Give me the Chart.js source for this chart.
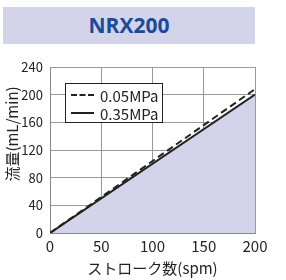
<!DOCTYPE html>
<html>
<head>
<meta charset="utf-8">
<script src="https://cdn.jsdelivr.net/npm/chart.js@4/dist/chart.umd.min.js"></script>
<style>
  html, body { margin: 0; padding: 0; background: #fff; }
  #wrap { position: relative; width: 286px; height: 280px; }
  #title {
    position: absolute; left: 3px; top: 7px; width: 252px; height: 37px;
    background: #d3d3ea; color: #1a4b9b; font: bold 21px "Open Sans", "Noto Sans", sans-serif;
    text-align: center; line-height: 37px;
  }
  #legend {
    position: absolute; left: 65px; top: 83px; width: 98px; height: 40px;
    border: 1px solid #222; background: #fff; box-sizing: border-box;
    font: 15px "Noto Sans CJK JP", "Noto Sans", sans-serif; color: #222;
  }
  .item { position: absolute; left: 5px; height: 18px; display: flex; align-items: center; }
  .swatch { width: 23px; height: 0; border-top: 2px solid #222; margin-right: 6px; }
  .swatch.dash { border-top-style: dashed; }
  #ytitle {
    position: absolute; left: 11px; top: 134px; transform: translate(-50%, -50%) rotate(-90deg);
    white-space: nowrap; font: 15px "Noto Sans CJK JP", sans-serif; color: #222;
  }
  canvas { position: absolute; left: 0; top: 0; }
</style>
</head>
<body>
<div id="wrap">
  <div id="title">NRX200</div>
  <canvas id="chart" width="286" height="280"></canvas>
  <div id="legend"></div>
  <div id="ytitle">流量(mL/min)</div>
</div>
<script>
// strokes per minute
const strokes = [0, 200];
const flow005 = [0, 208];   // 0.05MPa
const flow035 = [0, 200];   // 0.35MPa
const seriesLabels = ['0.05MPa', '0.35MPa'];
const xTicks = [0, 50, 100, 150, 200];
const yTicks = [0, 40, 80, 120, 160, 200, 240];

const toPoints = (xs, ys) => xs.map((x, i) => ({ x, y: ys[i] }));

const jpFont = { family: '"Noto Sans CJK JP", sans-serif', size: 15 };
const yFont = { family: '"Noto Sans CJK JP", sans-serif', size: 13 };

const chart = new Chart(document.getElementById('chart').getContext('2d'), {
    type: 'line',
    data: {
        datasets: [
            {
                label: seriesLabels[0],
                data: toPoints(strokes, flow005),
                borderColor: '#222',
                borderWidth: 2,
                borderDash: [7, 4],
                pointRadius: 0,
                fill: false,
            },
            {
                label: seriesLabels[1],
                data: toPoints(strokes, flow035),
                borderColor: '#222',
                borderWidth: 2,
                backgroundColor: '#d3d3ea',
                pointRadius: 0,
                fill: 'origin',
            }
        ]
    },
    options: {
        responsive: false,
        animation: false,
        layout: { padding: { left: 0, right: 31, top: 67, bottom: 0 } },
        plugins: { legend: { display: false }, tooltip: { enabled: false } },
        scales: {
            x: {
                type: 'linear', min: 0, max: 200,
                afterBuildTicks: (s) => { s.ticks = xTicks.map(v => ({ value: v })); },
                afterFit: (s) => { s.height = 47; },
                grid: { color: '#999', lineWidth: 1, drawTicks: false },
                border: { color: '#888' },
                ticks: { color: '#222', font: jpFont, padding: 4, maxRotation: 0 },
                title: { display: true, text: 'ストローク数(spm)', color: '#222', font: jpFont, padding: { top: 0, bottom: 3 } }
            },
            y: {
                min: 0, max: 240,
                afterBuildTicks: (s) => { s.ticks = yTicks.map(v => ({ value: v })); },
                afterFit: (s) => { s.width = 50; },
                grid: { color: '#999', lineWidth: 1, drawTicks: false },
                border: { color: '#888' },
                ticks: { color: '#222', font: yFont, padding: 7 }
            }
        }
    }
});

// legend inside plot area, built from the datasets
const legend = document.getElementById('legend');
chart.data.datasets.forEach((ds, i) => {
    const item = document.createElement('div');
    item.className = 'item';
    item.style.top = (2 + i * 18) + 'px';
    const sw = document.createElement('span');
    sw.className = 'swatch' + (ds.borderDash ? ' dash' : '');
    const txt = document.createElement('span');
    txt.textContent = ds.label;
    item.appendChild(sw);
    item.appendChild(txt);
    legend.appendChild(item);
});
</script>
</body>
</html>
